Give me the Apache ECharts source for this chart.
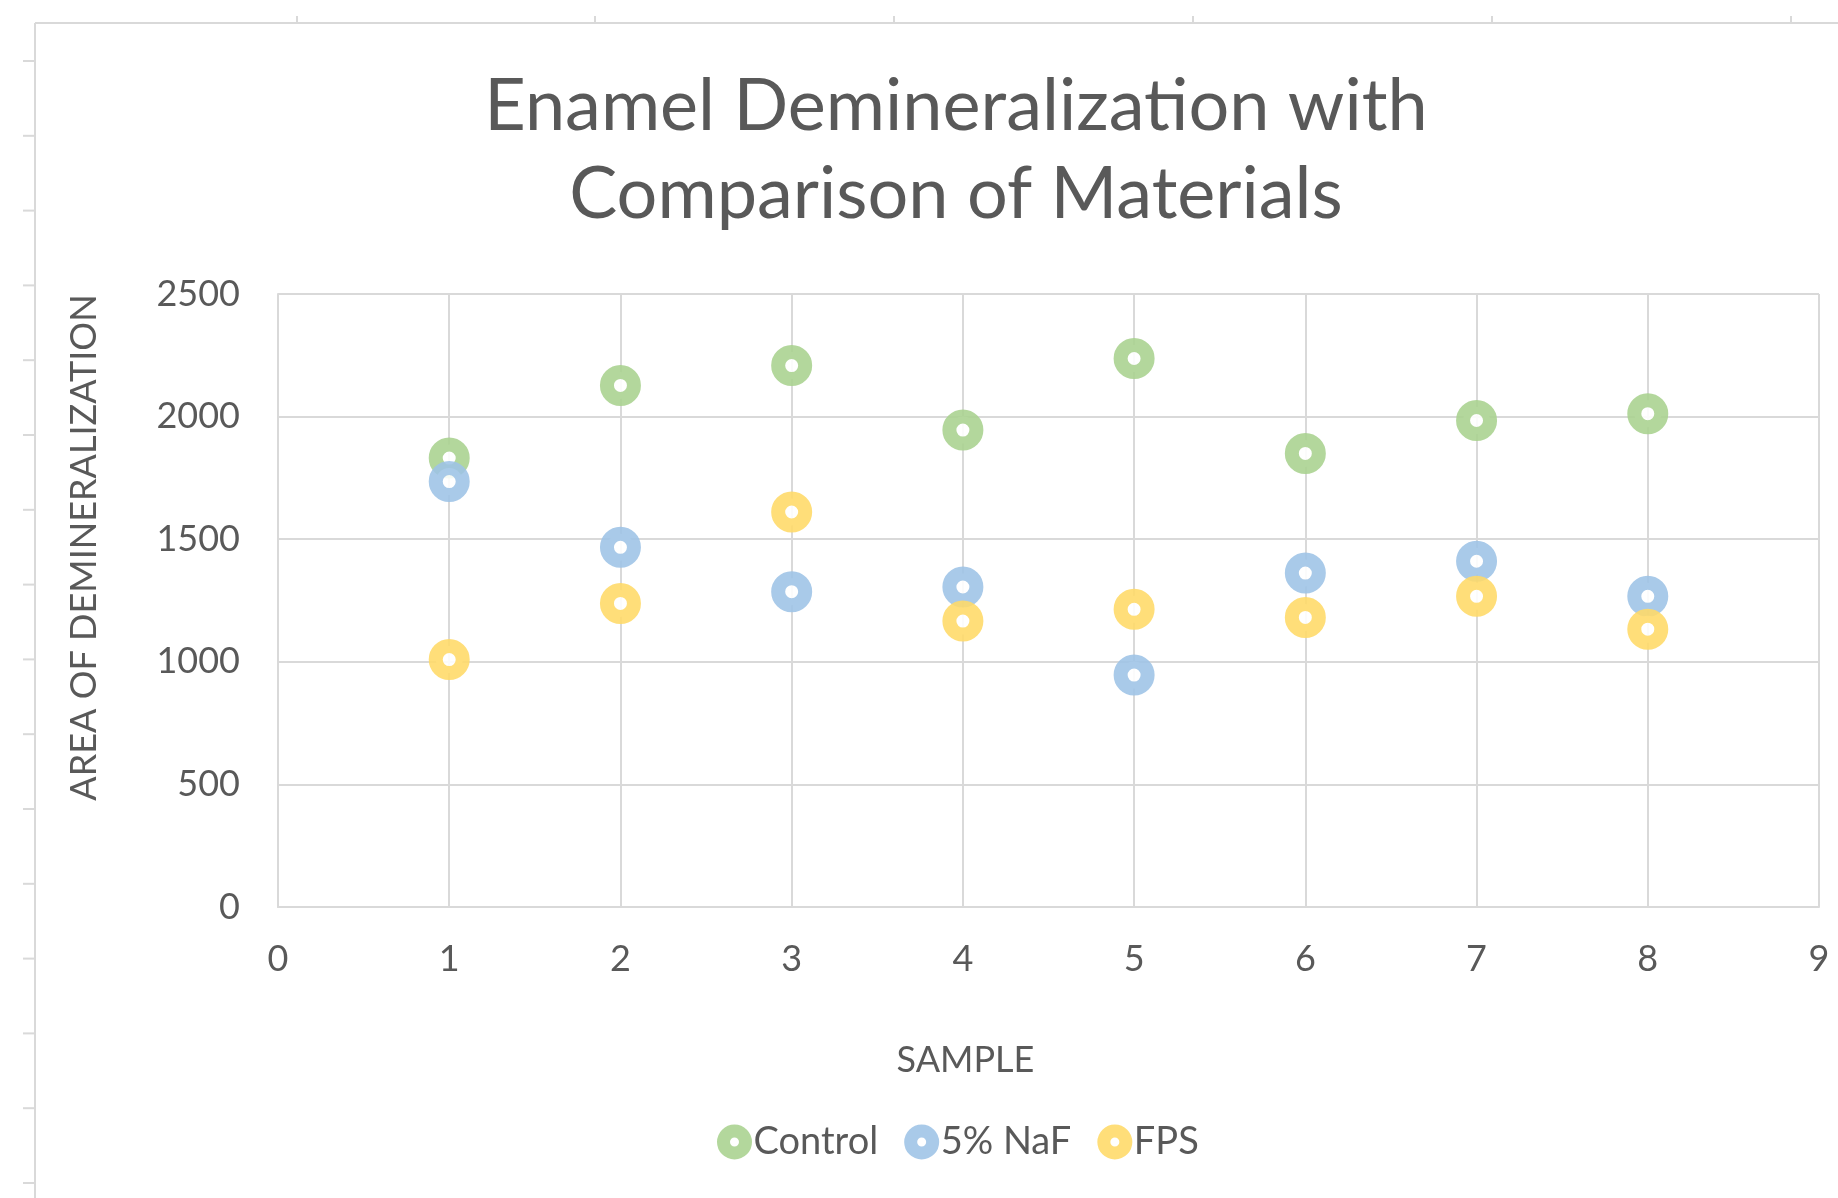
<!DOCTYPE html>
<html>
<head>
    <meta charset="utf-8">
    <title>Enamel Demineralization</title>
    <script src="https://cdn.jsdelivr.net/npm/echarts@6/dist/echarts.min.js"></script>
    <style>
        html, body { margin: 0; padding: 0; background: #fff; }
        #chart { width: 1838px; height: 1198px; }
    </style>
</head>
<body>
<div id="chart"></div>
<script>
// 数据
var samples = [1, 2, 3, 4, 5, 6, 7, 8];
var controlValues = [1831, 2127, 2208, 1945, 2237, 1850, 1984, 2012];
var nafValues = [1735, 1467, 1286, 1305, 946, 1362, 1410, 1267];
var fpsValues = [1009, 1238, 1611, 1166, 1214, 1181, 1267, 1133];

var seriesNames = ['Control', '5% NaF', 'FPS'];
var seriesColors = ['#A9D18E', '#9DC3E6', '#FFD966'];

var textColor = '#595959';
var lineColor = '#d9d9d9';
var fontName = 'Lato';

function pairs(values) {
    return samples.map(function (s, i) { return [s, values[i]]; });
}

function ringSeries(name, values, color) {
    return {
        name: name,
        type: 'scatter',
        data: pairs(values),
        symbol: 'circle',
        symbolSize: 27,
        itemStyle: {
            color: '#fff',
            borderColor: color,
            borderWidth: 14,
            opacity: 0.88
        },
        emphasis: { disabled: true }
    };
}

// 外框和表格刻度（截图边缘的装饰）
var frame = [];
frame.push({ type: 'line', shape: { x1: 35, y1: 23, x2: 1838, y2: 23 }, style: { stroke: lineColor, lineWidth: 2 } });
frame.push({ type: 'line', shape: { x1: 35, y1: 23, x2: 35, y2: 1198 }, style: { stroke: lineColor, lineWidth: 2 } });
[297, 595, 894, 1193, 1492, 1791].forEach(function (x) {
    frame.push({ type: 'line', shape: { x1: x, y1: 16, x2: x, y2: 23 }, style: { stroke: lineColor, lineWidth: 2 } });
});
for (var y = 61; y < 1198; y += 74.8) {
    frame.push({ type: 'line', shape: { x1: 23, y1: y, x2: 35, y2: y }, style: { stroke: lineColor, lineWidth: 2 } });
}

var chart = echarts.init(document.getElementById('chart'));
chart.setOption({
    backgroundColor: '#fff',
    animation: false,
    color: seriesColors,
    textStyle: { fontFamily: fontName, color: textColor },
    title: {
        text: 'Enamel Demineralization with\nComparison of Materials',
        left: 951,
        textAlign: 'center',
        top: 58,
        textStyle: {
            fontFamily: fontName,
            fontSize: 72,
            fontWeight: 'normal',
            color: textColor,
            lineHeight: 88
        }
    },
    legend: {
        data: seriesNames,
        bottom: 32,
        left: 712,
        itemWidth: 22,
        itemHeight: 22,
        itemGap: 26,
        itemStyle: { borderWidth: 13 },
        textStyle: {
            fontFamily: fontName,
            fontSize: 38,
            color: textColor,
            padding: [0, 0, 0, 3]
        }
    },
    grid: {
        left: 278,
        right: 19,
        top: 294,
        bottom: 291,
        containLabel: false
    },
    xAxis: {
        type: 'value',
        min: 0,
        max: 9,
        interval: 1,
        name: 'SAMPLE',
        nameLocation: 'middle',
        nameGap: 135,
        nameTextStyle: { fontFamily: fontName, fontSize: 36, color: textColor, padding: [0, 166, 0, 0] },
        axisLine: { show: true, lineStyle: { color: lineColor, width: 2 } },
        axisTick: { show: false },
        axisLabel: { fontFamily: fontName, fontSize: 36, color: textColor, margin: 34 },
        splitLine: { show: true, lineStyle: { color: lineColor, width: 2 } }
    },
    yAxis: {
        type: 'value',
        min: 0,
        max: 2500,
        interval: 500,
        name: 'AREA OF DEMINERALIZATION',
        nameLocation: 'middle',
        nameGap: 176,
        nameTextStyle: { fontFamily: fontName, fontSize: 36, color: textColor, padding: [0, 0, 0, 106] },
        axisLine: { show: true, lineStyle: { color: lineColor, width: 2 } },
        axisTick: { show: false },
        axisLabel: {
            fontFamily: fontName,
            fontSize: 36,
            color: textColor,
            margin: 38,
            formatter: function (v) { return String(v); }
        },
        splitLine: { show: true, lineStyle: { color: lineColor, width: 2 } }
    },
    graphic: frame,
    series: [
        ringSeries(seriesNames[0], controlValues, seriesColors[0]),
        ringSeries(seriesNames[1], nafValues, seriesColors[1]),
        ringSeries(seriesNames[2], fpsValues, seriesColors[2])
    ]
});
</script>
</body>
</html>
